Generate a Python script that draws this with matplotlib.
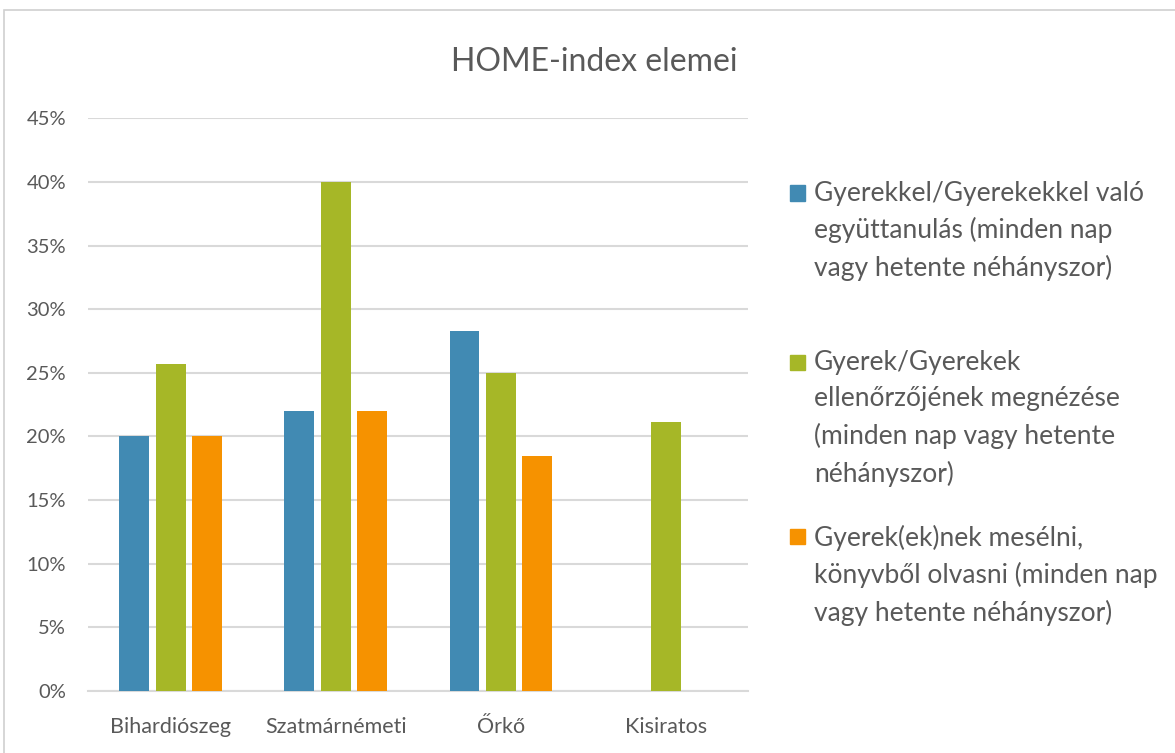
import matplotlib.pyplot as plt
from matplotlib.patches import Rectangle
from matplotlib.ticker import PercentFormatter
import numpy as np

plt.rcParams['font.family'] = ['Lato', 'DejaVu Sans']

categories = ['Bihardiószeg', 'Szatmárnémeti', 'Őrkő', 'Kisiratos']
series_labels = [
    'Gyerekkel/Gyerekekkel való\negyüttanulás (minden nap\nvagy hetente néhányszor)',
    'Gyerek/Gyerekek\nellenőrzőjének megnézése\n(minden nap vagy hetente\nnéhányszor)',
    'Gyerek(ek)nek mesélni,\nkönyvből olvasni (minden nap\nvagy hetente néhányszor)',
]
tanulas = [20.0, 22.0, 28.3, 0.0]
ellenorzo = [25.7, 40.0, 25.0, 21.1]
meseles = [20.0, 22.0, 18.5, 0.0]
colors = ['#418AB3', '#A6B727', '#F69200']

text_color = '#595959'
grid_color = '#D9D9D9'

fig = plt.figure(figsize=(11.75, 7.53), dpi=100)
ax = fig.add_axes([0.075, 0.0823, 0.562, 0.7607])

x = np.arange(len(categories))
width = 0.18
step = 0.221
for i, (vals, col) in enumerate(zip([tanulas, ellenorzo, meseles], colors)):
    ax.bar(x + (i - 1) * step, vals, width=width, color=col, zorder=3)

ax.set_ylim(0, 45)
ax.set_xlim(-0.5, len(categories) - 0.5)
ax.set_yticks(np.arange(0, 46, 5))
ax.yaxis.set_major_formatter(PercentFormatter(decimals=0))
ax.set_xticks(x)
ax.set_xticklabels(categories)
ax.tick_params(axis='x', length=0, labelsize=15.5, colors=text_color, pad=19)
ax.tick_params(axis='y', length=0, labelsize=14.5, colors=text_color, pad=16)
ax.grid(axis='y', color=grid_color, linewidth=1.5, zorder=0)
for s in ['top', 'right', 'left']:
    ax.spines[s].set_visible(False)
ax.spines['bottom'].set_color(grid_color)
ax.spines['bottom'].set_linewidth(1.5)

fig.text(0.506, 0.918, 'HOME-index elemei', ha='center', va='center',
         fontsize=23, color=text_color)

# manual legend to match the uneven spacing
legend_tops = [0.760, 0.535, 0.3035]
square_mid = [0.7437, 0.518, 0.2869]
for label, col, top, mid in zip(series_labels, colors, legend_tops, square_mid):
    fig.add_artist(Rectangle((0.672, mid - 0.01), 0.0128, 0.02,
                             transform=fig.transFigure, color=col))
    fig.text(0.6928, top, label, ha='left', va='top', fontsize=19,
             color=text_color, linespacing=1.55)

# outer chart border
fig.add_artist(Rectangle((0.0035, -0.01), 1.0, 0.997, transform=fig.transFigure,
                         fill=False, edgecolor='#D0D0D0', linewidth=1.2))

fig.savefig('out.png', dpi=100)
